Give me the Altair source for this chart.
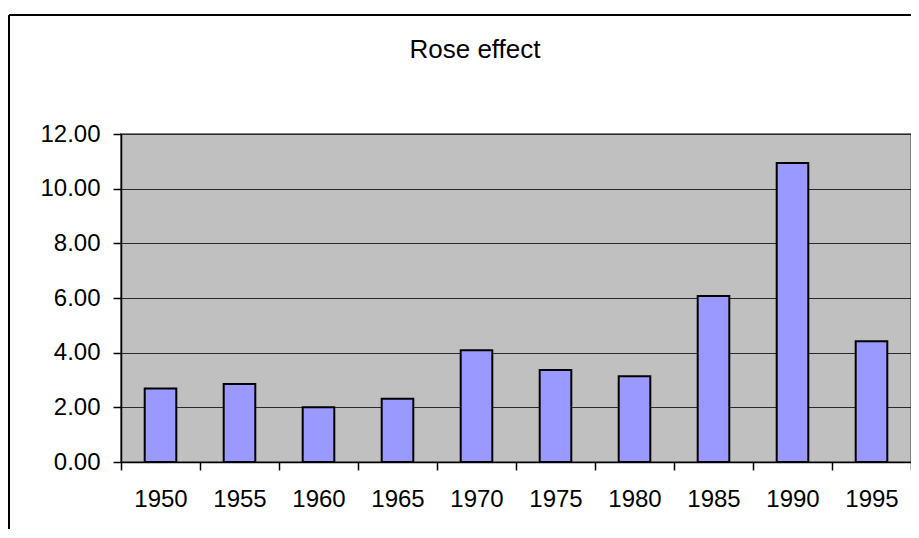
import altair as alt
import pandas as pd

years = ["1950", "1955", "1960", "1965", "1970", "1975", "1980", "1985", "1990", "1995"]
values = [2.69, 2.85, 2.00, 2.31, 4.09, 3.37, 3.14, 6.07, 10.94, 4.42]
y_ticks = [0, 2, 4, 6, 8, 10, 12]

df = pd.DataFrame({"year": years, "value": values})
FONT = "Liberation Sans"

bars = alt.Chart(df).mark_bar(
    width=alt.RelativeBandSize(0.4), fill="#9999FF", stroke="#000000", strokeWidth=2
).encode(
    x=alt.X(
        "year:N", sort=years,
        scale=alt.Scale(paddingInner=0, paddingOuter=0),
        axis=alt.Axis(
            title=None, labelAngle=0, tickBand="extent", ticks=True, tickSize=8,
            labelPadding=17, labelFontSize=24, labelFont=FONT, labelColor="#000000",
            domainColor="#000000", domainWidth=1.5, tickColor="#000000", tickWidth=1.5,
            grid=False,
        ),
    ),
    y=alt.Y(
        "value:Q",
        scale=alt.Scale(domain=[0, 12], nice=False),
        axis=alt.Axis(
            title=None, values=y_ticks, format=".2f", grid=True, gridColor="#2a2a2a",
            gridWidth=1, tickSize=8, labelPadding=13, labelFontSize=24, labelFont=FONT,
            labelColor="#000000", domainColor="#000000", domainWidth=1.5,
            tickColor="#000000", tickWidth=1.5,
        ),
    ),
)

border_df = pd.DataFrame({"k": [0]})
border_top = alt.Chart(border_df).mark_rule(color="#000000", strokeWidth=2).encode(
    x=alt.value(-112), x2=alt.value(820), y=alt.value(-119)
)
border_left = alt.Chart(border_df).mark_rule(color="#000000", strokeWidth=2).encode(
    x=alt.value(-112), y=alt.value(-119), y2=alt.value(420)
)

chart = alt.layer(bars, border_top, border_left).properties(
    width=790,
    height=328,
    background="#FFFFFF",
    autosize=alt.AutoSizeParams(type="none"),
    padding={"left": 113, "top": 126, "right": 0, "bottom": 67},
    title=alt.TitleParams(
        "Rose effect", fontSize=26, font=FONT, fontWeight="normal", color="#000000",
        anchor="middle", dx=-41, offset=0, dy=70, baseline="alphabetic",
    ),
).configure_view(
    fill="#C0C0C0", stroke="#808080", strokeWidth=2
)

chart.save("out.html", embed_options={"renderer": "svg", "actions": False})
